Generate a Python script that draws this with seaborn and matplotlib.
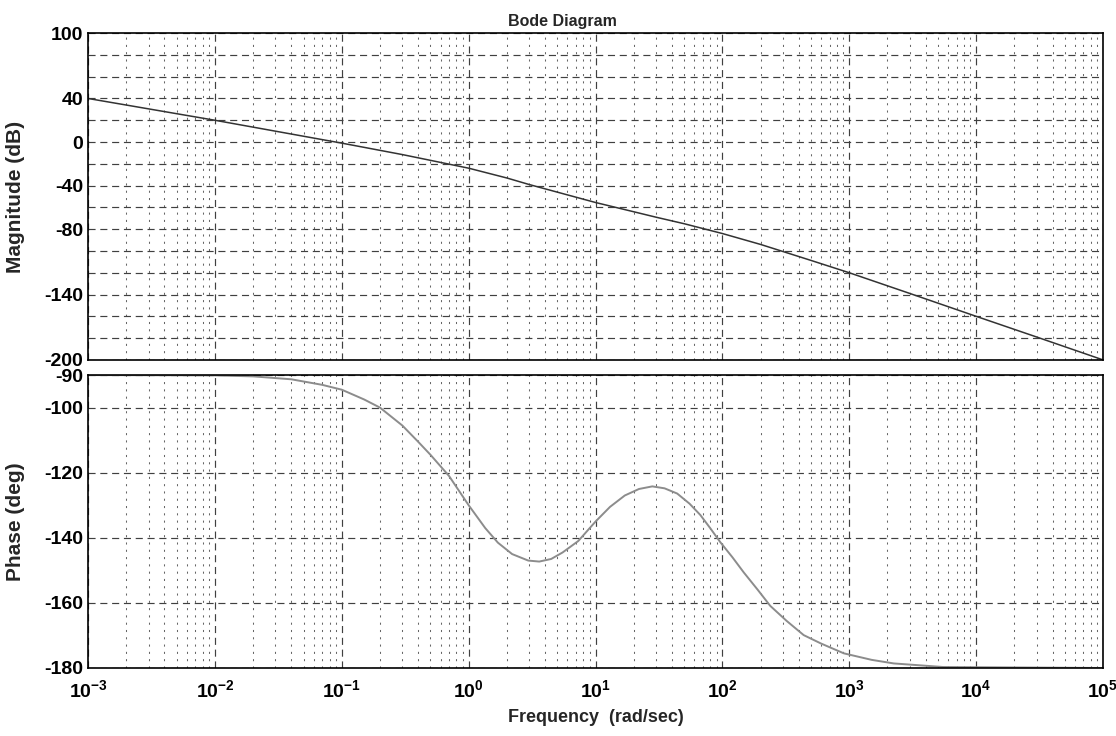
import matplotlib
matplotlib.use("Agg")
import matplotlib.pyplot as plt
import seaborn as sns
from matplotlib.ticker import LogLocator, FixedLocator, NullFormatter

# Werte
mag_freq = [1e-3, 1e-2, 1e-1, 0.3, 1, 2, 3, 5, 10, 20, 30, 50, 100, 200, 300,
            500, 1e3, 3e3, 1e4, 3e4, 1e5]
mag_db = [40, 20, -1, -11.5, -24, -33, -39, -46, -55.5, -64, -69, -75, -84, -94,
          -100.5, -108.7, -120, -139, -160, -179, -200]

phase_freq = [1e-3, 1e-2, 0.02, 0.04, 0.07, 0.1, 0.15, 0.2, 0.3, 0.4, 0.5, 0.7,
              1.0, 1.35, 1.7, 2.2, 2.95, 3.6, 4.47, 5.5, 7.3, 10, 13, 17, 22, 28,
              35, 44, 55, 67, 80, 96, 120, 147, 190, 238, 320, 437, 600, 906,
              1500, 2240, 5500, 1e5]
phase_deg = [-90.0, -90.1, -90.4, -91.3, -93, -94.5, -97.5, -100, -105.5, -110.5,
             -114.5, -121, -130, -137, -141.5, -145, -147, -147.3, -146.5, -144.5,
             -141, -135, -130.5, -127, -125, -124.2, -124.8, -126.4, -129.5, -133,
             -137, -141.3, -146, -150.6, -156, -160.9, -165.5, -169.9, -172.5,
             -175.5, -177.5, -178.6, -179.7, -180]

mag_ticks = list(range(-200, 101, 20))
mag_labeled = [100, 40, 0, -40, -80, -140, -200]
phase_ticks = [-180, -160, -140, -120, -100, -90]
phase_minor = [-170, -150, -130, -110]
decades = [-3, -2, -1, 0, 1, 2, 3, 4, 5]

sns.set_style("white")
plt.rcParams["font.family"] = ["Liberation Sans", "DejaVu Sans"]
plt.rcParams["font.weight"] = "bold"
plt.rcParams["mathtext.fontset"] = "custom"
plt.rcParams["mathtext.rm"] = "Liberation Sans:bold"
plt.rcParams["mathtext.it"] = "Liberation Sans:bold"
plt.rcParams["mathtext.bf"] = "Liberation Sans:bold"

fig = plt.figure(figsize=(11.16, 7.36), dpi=100)
ax1 = fig.add_axes([0.0789, 0.511, 0.9095, 0.444])
ax2 = fig.add_axes([0.0789, 0.0924, 0.9095, 0.398])

sns.lineplot(x=mag_freq, y=mag_db, ax=ax1, color="0.2", lw=1.1)
sns.lineplot(x=phase_freq, y=phase_deg, ax=ax2, color="0.55", lw=1.4)

for ax in (ax1, ax2):
    ax.set_xscale("log")
    ax.set_xlim(1e-3, 1e5)
    ax.xaxis.set_major_locator(FixedLocator([10.0 ** e for e in decades]))
    ax.xaxis.set_minor_locator(LogLocator(base=10, subs=range(2, 10), numticks=100))
    ax.xaxis.set_minor_formatter(NullFormatter())
    ax.grid(which="major", axis="both", ls=(0, (6, 4)), color="0.25", lw=0.85)
    ax.grid(which="minor", axis="x", ls=(0, (2, 5)), color="0.4", lw=0.75)
    ax.tick_params(which="both", direction="in", length=4, width=0.8, colors="black")
    for s in ax.spines.values():
        s.set_color("black")
        s.set_linewidth(1.2)

# Magnitude
ax1.set_ylim(-200, 100)
ax1.set_yticks(mag_ticks)
ax1.set_yticklabels([str(v) if v in mag_labeled else "" for v in mag_ticks], fontsize=14)
ax1.set_xticklabels([])
ax1.set_ylabel("Magnitude (dB)", fontsize=15, fontweight="bold")
ax1.yaxis.set_label_coords(-0.062, 0.5)
ax1.set_title("Bode Diagram", fontsize=11.5, fontweight="bold", pad=5, x=0.467)

# Phase
ax2.set_ylim(-180, -90)
ax2.set_yticks(phase_ticks)
ax2.set_yticklabels([str(v) for v in phase_ticks], fontsize=14)
ax2.yaxis.set_minor_locator(FixedLocator(phase_minor))
ax2.set_xticklabels([f"$10^{{{e}}}$" for e in decades], fontsize=14)
ax2.tick_params(axis="x", which="major", pad=8)
ax2.set_ylabel("Phase (deg)", fontsize=15, fontweight="bold")
ax2.yaxis.set_label_coords(-0.062, 0.5)
ax2.set_xlabel("Frequency  (rad/sec)", fontsize=13, fontweight="bold", labelpad=6)

fig.savefig("out.png", dpi=100)
